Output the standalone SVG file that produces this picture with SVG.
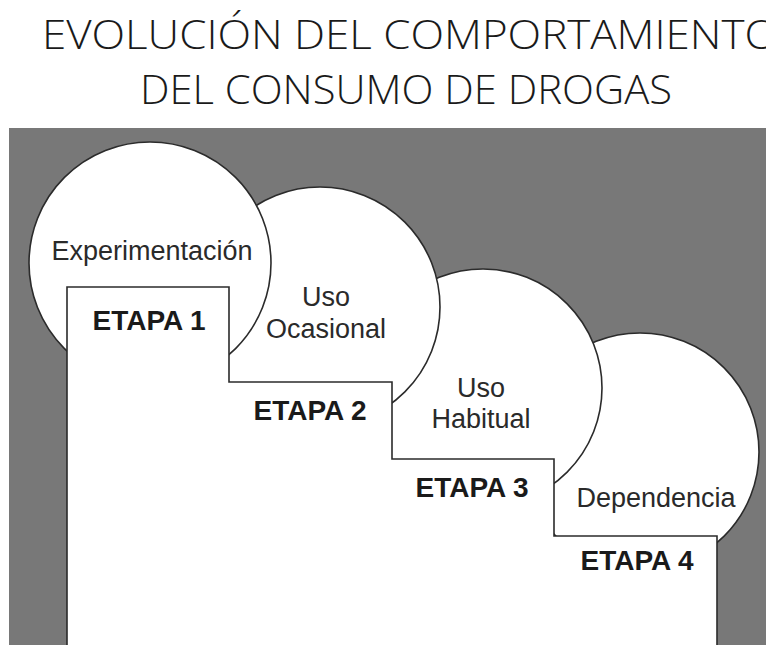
<svg xmlns="http://www.w3.org/2000/svg" width="766" height="645" viewBox="0 0 766 645">
  <style>
    .title { font-family: "Open Sans", "Liberation Sans", sans-serif; font-weight: 300; font-size: 40px; fill: #1a1a1a; }
    .bubble { fill: #ffffff; stroke: #2b2b2b; stroke-width: 1.6; }
    .lbl { font-family: "Liberation Sans", Arial, sans-serif; font-size: 27px; fill: #2a2a2a; text-anchor: middle; }
    .etapa { font-family: "Liberation Sans", Arial, sans-serif; font-size: 28px; font-weight: bold; fill: #1a1a1a; text-anchor: middle; }
  </style>
  <rect x="0" y="0" width="766" height="645" fill="#ffffff"/>

  <g id="titulo">
    <text class="title" x="42" y="49" textLength="736" lengthAdjust="spacingAndGlyphs">EVOLUCIÓN DEL COMPORTAMIENTO</text>
    <text class="title" x="140" y="104" textLength="532" lengthAdjust="spacingAndGlyphs">DEL CONSUMO DE DROGAS</text>
  </g>

  <rect id="fondo" x="9" y="128" width="757" height="517" fill="#787878"/>

  <g id="dependencia">
    <circle class="bubble" cx="640" cy="452" r="119"/>
    <text class="lbl" x="656" y="507">Dependencia</text>
  </g>
  <g id="uso-habitual">
    <circle class="bubble" cx="483" cy="388" r="119"/>
    <text class="lbl" x="481" y="397">Uso</text>
    <text class="lbl" x="481" y="428">Habitual</text>
  </g>
  <g id="uso-ocasional">
    <circle class="bubble" cx="320" cy="307" r="120"/>
    <text class="lbl" x="326" y="306">Uso</text>
    <text class="lbl" x="326" y="338">Ocasional</text>
  </g>
  <g id="experimentacion">
    <circle class="bubble" cx="150" cy="263" r="121"/>
    <text class="lbl" x="152" y="260">Experimentación</text>
  </g>

  <g id="escalera">
    <path d="M67,646 V287 H229 V382 H392 V459 H554 V536 H717 V646" fill="#ffffff" stroke="#2b2b2b" stroke-width="1.6"/>
  </g>
  <g id="etapa1"><text class="etapa" x="149" y="330">ETAPA 1</text></g>
  <g id="etapa2"><text class="etapa" x="310" y="420">ETAPA 2</text></g>
  <g id="etapa3"><text class="etapa" x="472" y="497">ETAPA 3</text></g>
  <g id="etapa4"><text class="etapa" x="637" y="570">ETAPA 4</text></g>
</svg>
